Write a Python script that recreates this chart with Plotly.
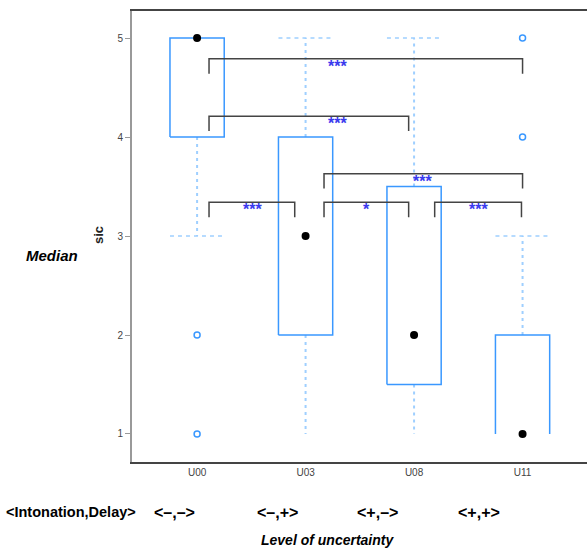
import plotly.graph_objects as go

# ---- data ----
categories = ["U00", "U03", "U08", "U11"]
cat_pos = [1, 2, 3, 4]
q1 = [4, 2, 1.5, 1]
q3 = [5, 4, 3.5, 2]
median = [5, 3, 2, 1]
whisker_lo = [3, 1, 1, 1]
whisker_hi = [5, 5, 5, 3]
outlier_x = [1, 1, 4, 4]
outlier_y = [2, 1, 4, 5]
condition_labels = ["<\u2013,\u2013>", "<\u2013,+>", "<+,\u2013>", "<+,+>"]

bracket_left = [1.11, 1.11, 2.17, 1.11, 2.17, 3.19]
bracket_right = [4.0, 2.95, 4.0, 1.90, 2.95, 3.99]
bracket_y = [4.79, 4.21, 3.63, 3.34, 3.34, 3.34]
bracket_label = ["***", "***", "***", "***", "*", "***"]
bracket_label_x = [2.29, 2.29, 3.08, 1.51, 2.56, 3.59]

BOX_W = 0.5
TICK_DEPTH = 0.15
BOX_COLOR = "#3a98ff"
WHISK_COLOR = "#9fcfff"

fig = go.Figure()

for i, c in enumerate(cat_pos):
    h = BOX_W / 2
    # whiskers
    if whisker_hi[i] > q3[i]:
        fig.add_trace(go.Scatter(x=[c, c], y=[q3[i], whisker_hi[i]], mode="lines",
                                 line=dict(color=WHISK_COLOR, width=2, dash="3px,4px"),
                                 hoverinfo="skip", showlegend=False))
        fig.add_trace(go.Scatter(x=[c - h, c + h], y=[whisker_hi[i], whisker_hi[i]], mode="lines",
                                 line=dict(color=WHISK_COLOR, width=1.5, dash="4px,4px"),
                                 hoverinfo="skip", showlegend=False))
    if whisker_lo[i] < q1[i]:
        fig.add_trace(go.Scatter(x=[c, c], y=[q1[i], whisker_lo[i]], mode="lines",
                                 line=dict(color=WHISK_COLOR, width=2, dash="3px,4px"),
                                 hoverinfo="skip", showlegend=False))
        if whisker_lo[i] > 1:
            fig.add_trace(go.Scatter(x=[c - h, c + h], y=[whisker_lo[i], whisker_lo[i]], mode="lines",
                                     line=dict(color=WHISK_COLOR, width=1.5, dash="4px,4px"),
                                     hoverinfo="skip", showlegend=False))
    # box
    if q1[i] > 1:
        bx = [c - h, c - h, c + h, c + h, c - h]
        by = [q1[i], q3[i], q3[i], q1[i], q1[i]]
    else:
        bx = [c - h, c - h, c + h, c + h]
        by = [q1[i], q3[i], q3[i], q1[i]]
    fig.add_trace(go.Scatter(x=bx, y=by, mode="lines",
                             line=dict(color=BOX_COLOR, width=1.5),
                             hoverinfo="skip", showlegend=False))

# medians
fig.add_trace(go.Scatter(x=cat_pos, y=median, mode="markers",
                         marker=dict(color="black", size=8),
                         hoverinfo="skip", showlegend=False))
# outliers
fig.add_trace(go.Scatter(x=outlier_x, y=outlier_y, mode="markers",
                         marker=dict(symbol="circle-open", color=BOX_COLOR, size=6,
                                     line=dict(width=1.5, color=BOX_COLOR)),
                         hoverinfo="skip", showlegend=False))

# significance brackets
for l, r, y, lab, lx in zip(bracket_left, bracket_right, bracket_y, bracket_label, bracket_label_x):
    fig.add_trace(go.Scatter(x=[l, l, r, r], y=[y - TICK_DEPTH, y, y, y - TICK_DEPTH], mode="lines",
                             line=dict(color="#444444", width=1.5),
                             hoverinfo="skip", showlegend=False))
    fig.add_annotation(x=lx, y=y, xref="x", yref="y", text="<b>" + lab + "</b>", showarrow=False,
                       yanchor="top", yshift=3,
                       font=dict(family="Arial, Liberation Sans", size=16, color="#3a3aee"))

# bottom labels
cond_px = [174, 277, 377, 479]
for lab, px in zip(condition_labels, cond_px):
    fig.add_annotation(x=(px - 132) / 455, y=-0.111, xref="paper", yref="paper", text="<b>" + lab.replace("<", "&lt;").replace(">", "&gt;") + "</b>",
                       showarrow=False, xanchor="center", yanchor="middle",
                       font=dict(family="Arial, Liberation Sans", size=16, color="black"))
fig.add_annotation(x=(71 - 132) / 455, y=-0.111, xref="paper", yref="paper",
                   text="<b>&lt;Intonation,Delay&gt;</b>", showarrow=False,
                   xanchor="center", yanchor="middle",
                   font=dict(family="Arial, Liberation Sans", size=14.5, color="black"))
fig.add_annotation(x=(327 - 132) / 455, y=-0.173, xref="paper", yref="paper",
                   text="<b><i>Level of uncertainty</i></b>", showarrow=False,
                   xanchor="center", yanchor="middle",
                   font=dict(family="Arial, Liberation Sans", size=14, color="black"))
fig.add_annotation(x=(52 - 132) / 455, y=(462 - 255) / 451, xref="paper", yref="paper",
                   text="<b><i>Median</i></b>", showarrow=False,
                   xanchor="center", yanchor="middle",
                   font=dict(family="Arial, Liberation Sans", size=15, color="black"))
fig.add_annotation(x=(98 - 132) / 455, y=(462 - 235) / 451, xref="paper", yref="paper",
                   text="<b>sic</b>", showarrow=False, textangle=-90,
                   xanchor="center", yanchor="middle",
                   font=dict(family="Arial, Liberation Sans", size=13, color="#222222"))

fig.update_layout(
    width=587, height=549,
    margin=dict(l=132, r=0, t=11, b=87),
    plot_bgcolor="white", paper_bgcolor="white",
    font=dict(family="Arial, Liberation Sans"),
    xaxis=dict(range=[0.40, 4.594], tickvals=cat_pos, ticktext=categories,
               showgrid=False, zeroline=False, showline=True, mirror=True,
               linecolor="#444444", linewidth=1.5, ticks="",
               tickfont=dict(size=10, color="#444444")),
    yaxis=dict(range=[0.717, 5.273], tickvals=[1, 2, 3, 4, 5],
               showgrid=False, zeroline=False, showline=True,
               linecolor="#999999", linewidth=2, ticks="outside", ticklen=5,
               tickcolor="#999999", tickfont=dict(size=10, color="#444444")),
)

fig.write_html("out.html")
